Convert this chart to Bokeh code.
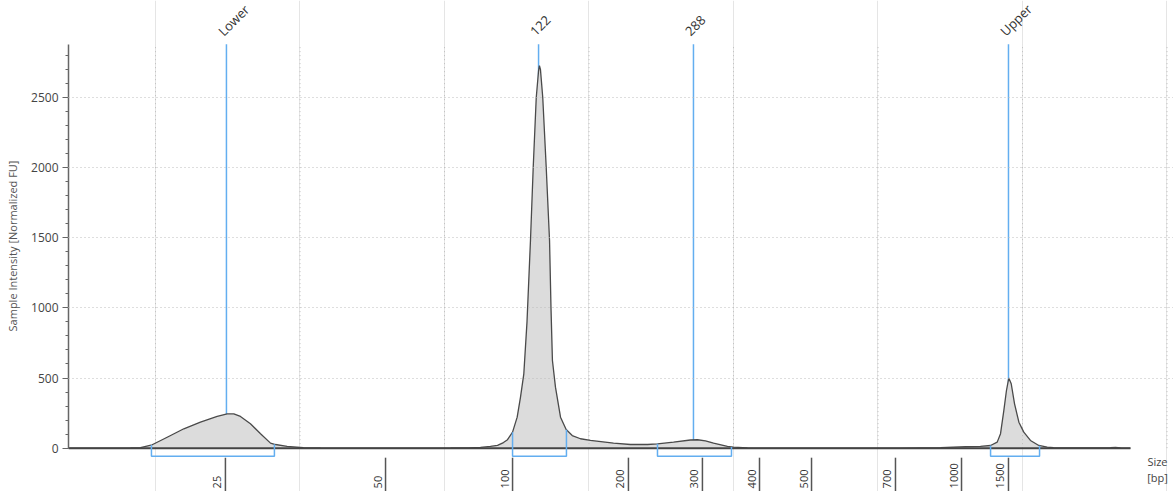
import numpy as np
from bokeh.plotting import figure
from bokeh.models import Range1d, FixedTicker
from bokeh.core.properties import value
from bokeh.embed import file_html
from bokeh.resources import INLINE

# ---- data (run position units, normalized fluorescence) ----
trace_pos = [0.398, 0.619, 0.827, 0.896, 0.977, 1.081, 1.196, 1.311, 1.427, 1.496,
             1.542, 1.588, 1.657, 1.727, 1.796, 1.830, 1.911, 2.024, 2.142, 2.696,
             3.042, 3.166, 3.249, 3.318, 3.367, 3.408, 3.436, 3.471, 3.503, 3.526,
             3.549, 3.571, 3.595, 3.614, 3.635, 3.651, 3.657, 3.664, 3.680, 3.704,
             3.727, 3.737, 3.747, 3.768, 3.803, 3.842, 3.884, 3.941, 4.010, 4.170,
             4.287, 4.405, 4.474, 4.585, 4.702, 4.751, 4.806, 4.862, 4.958, 5.000,
             5.097, 5.256, 6.156, 6.433, 6.606, 6.709, 6.779, 6.825, 6.848, 6.871,
             6.889, 6.905, 6.922, 6.945, 6.975, 7.009, 7.055, 7.113, 7.171, 7.215,
             7.401, 7.609, 7.644, 7.678, 7.747]
trace_fu = [0, 0, 1, 3, 24, 78, 138, 185, 226, 245,
            244, 226, 174, 103, 36, 26, 12, 3, 1, 0,
            1, 2, 5, 12, 20, 40, 60, 114, 221, 364,
            530, 900, 1480, 2000, 2500, 2690, 2727, 2700, 2500, 2000,
            1480, 1000, 625, 435, 221, 133, 90, 67, 55, 36,
            26, 26, 31, 43, 58, 60, 52, 36, 12, 7,
            2, 0, 0, 4, 10, 12, 19, 43, 103, 269,
            411, 500, 459, 316, 185, 114, 55, 19, 7, 3,
            1, 3, 5, 2, 0]

ladder_labels = ["25", "50", "100", "200", "300", "400", "500", "700", "1000", "1500"]
ladder_pos = [1.484, 2.592, 3.471, 4.273, 4.785, 5.180, 5.540, 6.121, 6.578, 6.903]

peak_labels = ["Lower", "122", "288", "Upper"]
peak_pos = [1.491, 3.651, 4.723, 6.903]
peak_from = [0.972, 3.471, 4.474, 6.779]
peak_to = [1.823, 3.844, 4.986, 7.118]

grid_pos = [1, 2, 3, 4, 5, 6, 7, 8]
y_ticks = [0, 500, 1000, 1500, 2000, 2500]
y_minor = [v * 100 for v in range(0, 29)]

Y_TOP = 2880
BLUE = "#63aef0"
FONT = "Open Sans"

p = figure(width=1173, height=491,
           x_range=Range1d(0.398, 8.045), y_range=Range1d(-309, 3191),
           output_backend="svg", toolbar_location=None, x_axis_location=None,
           min_border_left=68, min_border_right=0, min_border_top=0, min_border_bottom=0)
p.outline_line_color = None
p.background_fill_color = "white"
p.border_fill_color = "white"

yax = p.yaxis[0]
yax.bounds = (0, Y_TOP)
yax.ticker = FixedTicker(ticks=y_ticks, minor_ticks=y_minor)
yax.axis_label = "Sample Intensity [Normalized FU]"
yax.axis_label_text_font = FONT
yax.axis_label_text_font_size = "11px"
yax.axis_label_text_font_style = "normal"
yax.axis_label_text_color = "#555555"
yax.axis_label_standoff = 8
yax.major_label_text_font = FONT
yax.major_label_text_font_size = "12px"
yax.major_label_text_color = "#444444"
yax.major_label_standoff = 4
yax.major_tick_out = 6
yax.major_tick_in = 0
yax.minor_tick_out = 3
yax.minor_tick_in = 0
yax.axis_line_color = "#666666"
yax.axis_line_width = 1.5
yax.major_tick_line_color = "#666666"
yax.minor_tick_line_color = "#666666"

p.ygrid.ticker = FixedTicker(ticks=y_ticks[1:])
p.ygrid.grid_line_color = "#bdbdbd"
p.ygrid.grid_line_dash = "1 3"
p.ygrid.level = "guide"

# peak marker lines (covered by the fill)
p.segment(x0=peak_pos, y0=[0] * len(peak_pos), x1=peak_pos, y1=[Y_TOP] * len(peak_pos),
          line_color=BLUE, line_width=1.5)

# filled trace
p.varea(x=trace_pos, y1=[0] * len(trace_pos), y2=trace_fu, fill_color="#dcdcdc")

# vertical dotted grid
p.segment(x0=grid_pos, y0=[0] * len(grid_pos), x1=grid_pos, y1=[Y_TOP] * len(grid_pos),
          line_color="#bdbdbd", line_dash="1 3", line_width=1)

p.line(trace_pos, trace_fu, line_color="#4a4a4a", line_width=1.3)
p.segment(x0=[trace_pos[0]], y0=[0], x1=[trace_pos[-1]], y1=[0],
          line_color="#444444", line_width=2)

# integration brackets
top_from = np.interp(peak_from, trace_pos, trace_fu)
top_to = np.interp(peak_to, trace_pos, trace_fu)
DEPTH = -57
xs = [[a, a, b, b] for a, b in zip(peak_from, peak_to)]
ys = [[ta, DEPTH, DEPTH, tb] for ta, tb in zip(top_from, top_to)]
p.multi_line(xs=xs, ys=ys, line_color=BLUE, line_width=1.5)

# size ladder ticks and labels
p.segment(x0=ladder_pos, y0=[-68] * len(ladder_pos), x1=ladder_pos, y1=[-320] * len(ladder_pos),
          line_color="#555555", line_width=1.5)
p.text(x=ladder_pos, y=[-287] * len(ladder_pos), text=ladder_labels,
       angle=np.pi / 2, x_offset=-8, text_align="left", text_baseline="middle",
       text_font=value(FONT), text_font_size="11px", text_color="#333333")

# peak labels on top
p.text(x=peak_pos, y=[2956] * len(peak_pos), text=peak_labels,
       angle=np.pi / 4, x_offset=-6, text_align="left", text_baseline="middle",
       text_font=value(FONT), text_font_size="13px", text_color="#333333")

p.text(x=[7.934], y=[-152], text=["Size\n[bp]"], text_align="center", text_baseline="middle",
       text_font=value(FONT), text_font_size="11px", text_color="#444444", text_line_height=1.1)

open("out.html", "w").write(file_html(p, INLINE))
